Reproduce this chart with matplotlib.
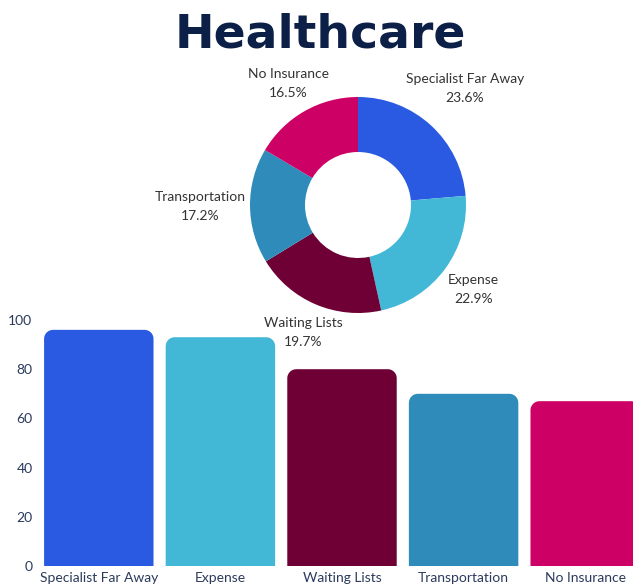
import numpy as np
import matplotlib.pyplot as plt
from matplotlib.patches import PathPatch
from matplotlib.path import Path

# DATA
categories = ["Specialist Far Away", "Expense", "Waiting Lists",
              "Transportation", "No Insurance"]
counts = [96, 93, 80, 70, 67]
colors = ["#2b5ae2", "#42b8d6", "#6e0036", "#2e8bba", "#cd0065"]
yticks = [0, 20, 40, 60, 80, 100]

# per-label distance from pie centre (layout only, axes units)
label_dist = [1.58, 1.43, 1.39, 1.58, 1.40]

plt.rcParams["font.family"] = ["Lato", "DejaVu Sans"]

W, H = 633, 586
fig = plt.figure(figsize=(W / 100, H / 100), dpi=100)
fig.patch.set_facecolor("white")


def rounded_top(x0, w, h, rx, ry):
    # rectangle with rounded top corners, square bottom
    t = np.linspace(0, np.pi / 2, 12)
    pts = [(x0, 0), (x0 + w, 0)]
    for a in t:   # top-right corner
        pts.append((x0 + w - rx + rx * np.cos(a), h - ry + ry * np.sin(a)))
    for a in t:   # top-left corner
        pts.append((x0 + rx - rx * np.sin(a), h - ry + ry * np.cos(a)))
    pts.append((x0, 0))
    return Path(pts)


# BAR CHART
ax = fig.add_axes([38 / W, 20 / H, 608 / W, 246 / H])
x = np.arange(len(categories))
bars = ax.bar(x, counts, width=0.9, color=colors)

px_x = 608 / 5.0      # pixels per x unit
px_y = 246 / 100.0    # pixels per y unit
r_px = 9
for b, c in zip(bars, colors):
    b.set_visible(False)
    path = rounded_top(b.get_x(), b.get_width(), b.get_height(),
                       r_px / px_x, r_px / px_y)
    ax.add_patch(PathPatch(path, facecolor=c, edgecolor="none"))

ax.set_xlim(-0.5, 4.5)
ax.set_ylim(0, 100)
ax.set_xticks(x)
ax.set_xticklabels(categories)
ax.set_yticks(yticks)
ax.tick_params(length=0, labelsize=10, colors="#2b3a5c")
ax.tick_params(axis="x", pad=4)
ax.tick_params(axis="y", pad=4)
for s in ax.spines.values():
    s.set_visible(False)
ax.set_facecolor("none")

# DONUT
pax = fig.add_axes([(358 - 200) / W, (586 - 205 - 200) / H, 400 / W, 400 / H])
pax.set_facecolor("none")
wedges, _ = pax.pie(counts, colors=colors, startangle=90, counterclock=False,
                    radius=1.08, wedgeprops=dict(width=0.55, edgecolor="none"))
pax.set_xlim(-2, 2)
pax.set_ylim(-2, 2)
pax.set_aspect("equal")
pax.axis("off")

total = sum(counts)
for wdg, name, v, d in zip(wedges, categories, counts, label_dist):
    ang = np.deg2rad((wdg.theta1 + wdg.theta2) / 2)
    pax.text(d * np.cos(ang), d * np.sin(ang),
             f"{name}\n{100 * v / total:.1f}%",
             ha="center", va="center", fontsize=10, color="#333333",
             linespacing=1.7)

# TITLE
fig.text(320 / W, 1 - 48 / H, "Healthcare", ha="center", va="baseline",
         fontsize=34, fontweight="bold", color="#0c1f47",
         family="DejaVu Sans")

fig.savefig("out.png", dpi=100, facecolor="white")
